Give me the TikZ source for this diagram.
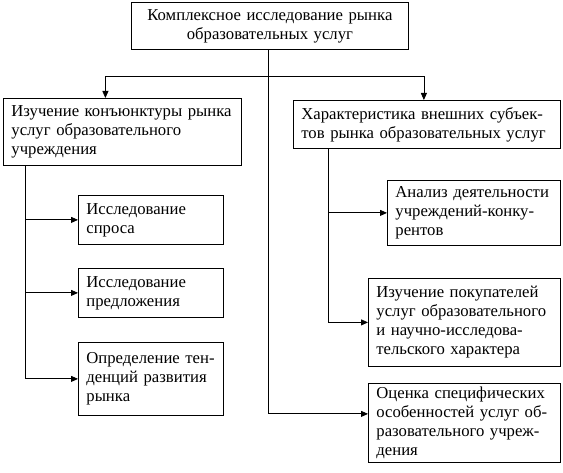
\documentclass[tikz,border=0pt]{standalone}
\usepackage{fontspec}
\setmainfont{Liberation Serif}
\usetikzlibrary{arrows.meta}
\newcommand\boxline[1]{\mbox{#1}}
\tikzset{
  box/.style={draw, line width=0.8pt, anchor=north west, align=left,
    inner xsep=8pt, inner ysep=2pt, font=\fontsize{16.7}{19}\selectfont},
  conn/.style={line width=0.8pt},
  arr/.style={conn, -{Triangle[length=7pt,width=6pt]}}
}
\begin{document}
\begin{tikzpicture}[x=1pt,y=-1pt]
\useasboundingbox (0,0) rectangle (563,473);
\node[box, align=center, text width=261pt, minimum height=47pt] (top) at (131,2)
  {Комплексное исследование рынка\\образовательных услуг};
\node[box, text width=222pt, minimum height=67pt] (L) at (3,98)
  {\boxline{Изучение конъюнктуры рынка}\\\boxline{услуг образовательного}\\учреждения};
\node[box, text width=251pt, minimum height=48pt] (R) at (293,100)
  {\boxline{Характеристика внешних субъек-}\\\boxline{тов рынка образовательных услуг}};
\node[box, text width=129pt, minimum height=49pt] (L1) at (78,195)
  {Исследование\\спроса};
\node[box, text width=129pt, minimum height=49pt] (L2) at (78,268)
  {Исследование\\предложения};
\node[box, text width=129pt, minimum height=73pt] (L3) at (78,342)
  {\boxline{Определение тен-}\\\boxline{денций развития}\\рынка};
\node[box, text width=157pt, minimum height=65pt] (R1) at (387,180)
  {\boxline{Анализ деятельности}\\\boxline{учреждений-конку-}\\рентов};
\node[box, text width=176pt, minimum height=88pt] (R2) at (368,278)
  {\boxline{Изучение покупателей}\\\boxline{услуг образовательного}\\\boxline{и научно-исследова-}\\\boxline{тельского характера}};
\node[box, text width=176pt, minimum height=79pt] (R3) at (368,383)
  {\boxline{Оценка специфических}\\\boxline{особенностей услуг об-}\\\boxline{разовательного учреж-}\\дения};
% main trunk
\coordinate (trunk) at ([xshift=-2pt]top.south);
\coordinate (hub) at (trunk |- 0,76);
\coordinate (Lin) at ([xshift=-17pt]L.north);
\coordinate (Rin) at ([xshift=-3pt]R.north);
\coordinate (R3in) at ([yshift=9pt]R3.west);
\draw[arr] (trunk) |- (R3in);
\draw[arr] (hub) -| (Lin);
\draw[arr] (hub) -| (Rin);
% left branch
\coordinate (lb) at ([xshift=22pt]L.south west);
\draw[arr] (lb) |- (L1.west);
\draw[arr] (lb) |- (L2.west);
\draw[arr] (lb) |- (L3.west);
% right branch
\coordinate (rb) at ([xshift=35pt]R.south west);
\draw[arr] (rb) |- (R1.west);
\draw[arr] (rb) |- (R2.west);
\end{tikzpicture}
\end{document}
